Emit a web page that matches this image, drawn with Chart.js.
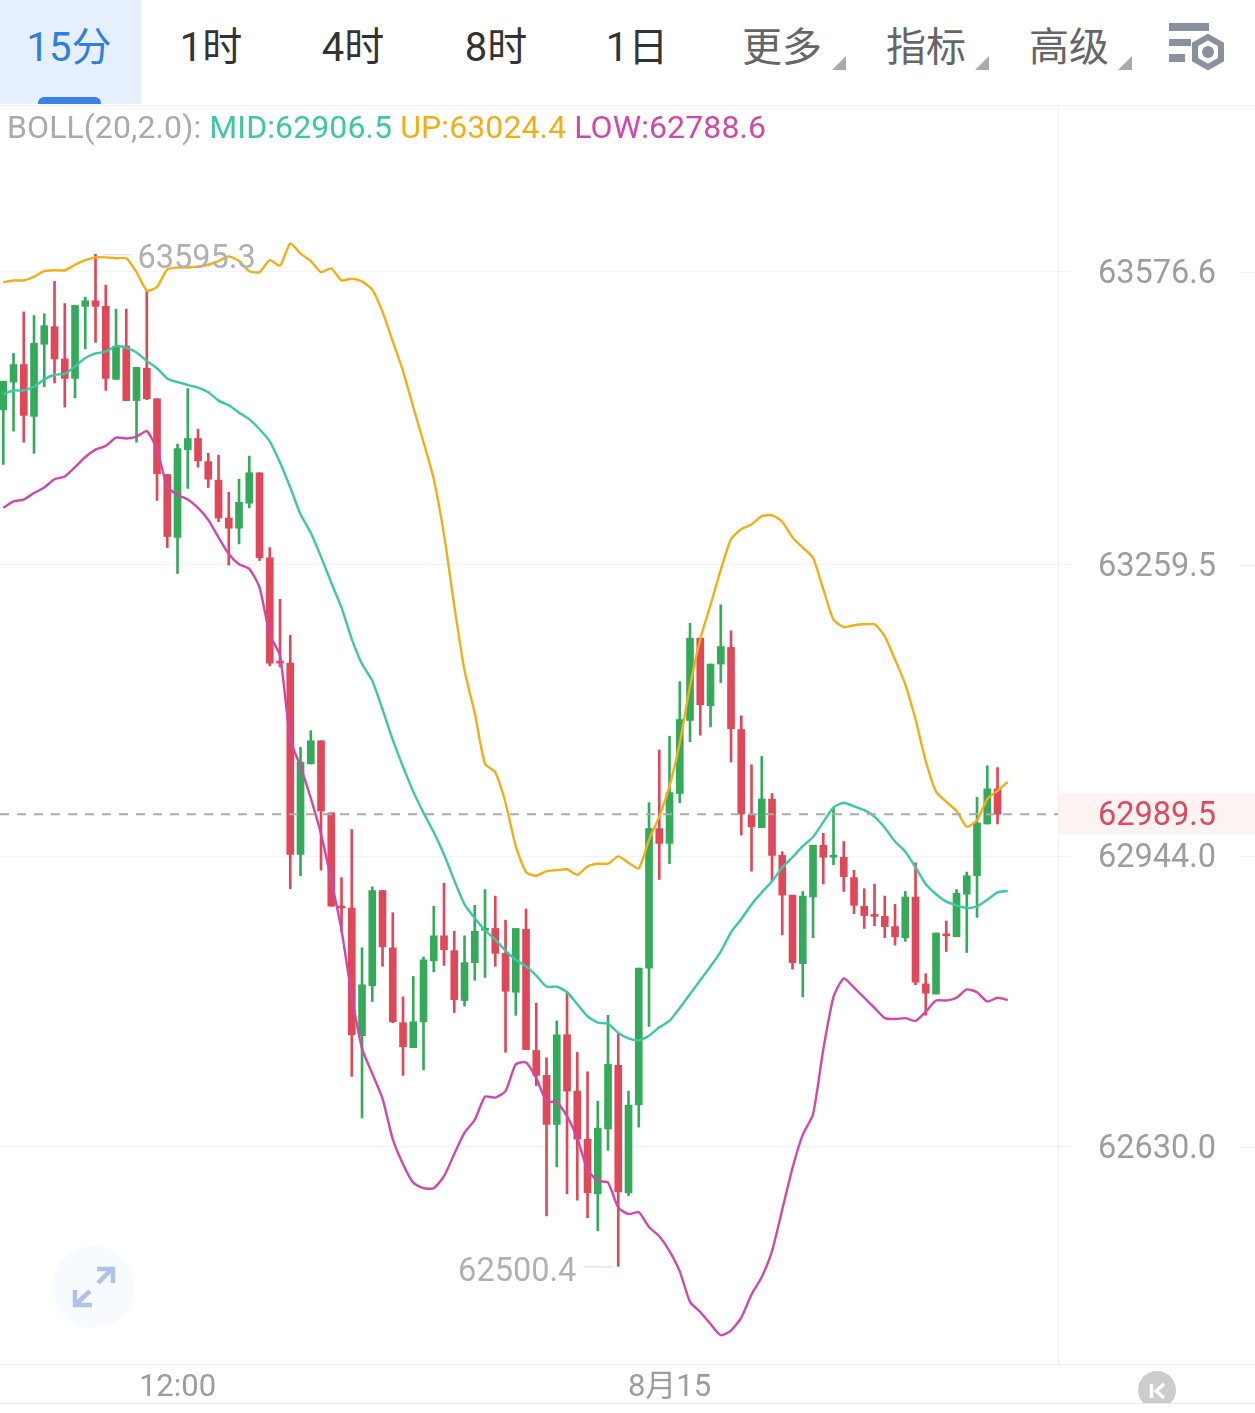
<!DOCTYPE html>
<html lang="zh">
<head>
<meta charset="utf-8">
<title>BOLL 15分</title>
<style>
  html, body { margin: 0; padding: 0; background: #fff; }
  body { position: relative; width: 1255px; height: 1413px; overflow: hidden; font-family: Roboto, "Noto Sans CJK SC", sans-serif; }
  #tabs { position: absolute; left: 0; top: 0; width: 1255px; height: 105px; }
  .tab { position: absolute; top: 22px; font-size: 40px; line-height: 52px; transform: translateX(-50%); white-space: nowrap; color: #333; }
  .tab.muted { color: #666; }
  .tab.active { color: #2f7ee0; }
  #activeBg { position: absolute; left: 0; top: 0; width: 141px; height: 104px; background: #e6f0fc; }
  #activeBar { position: absolute; left: 38px; top: 97px; width: 63px; height: 7px; background: #3b82e6; border-radius: 6px 6px 0 0; }
  #legend { position: absolute; left: 7px; top: 107px; font-size: 32px; line-height: 40px; white-space: nowrap; letter-spacing: 0.1px; }
  #chart { position: absolute; left: 0; top: 105px; }
  svg { position: absolute; left: 0; top: 0; pointer-events: none; }
</style>
</head>
<body>
<div id="tabs">
  <div id="activeBg"></div>
  <div id="activeBar"></div>
</div>
<canvas id="chart" width="1255" height="1308"></canvas>
<div id="legend"></div>
<svg width="1255" height="1413" viewBox="0 0 1255 1413">
  <!-- triangles under the menu tabs -->
  <path d="M846 56 V70 H832 Z M989 56 V70 H975 Z M1132 56 V70 H1118 Z" fill="#aaaaaa"/>
  <!-- settings icon -->
  <g fill="#8a90a0">
    <rect x="1169" y="23" width="40" height="8"/>
    <rect x="1169" y="39" width="22" height="7"/>
    <rect x="1169" y="54" width="16" height="8"/>
    <circle cx="1208" cy="52" r="6"/>
  </g>
  <path d="M1208 37 L1221 44.5 V59.5 L1208 67 L1195 59.5 V44.5 Z" fill="none" stroke="#8a90a0" stroke-width="6"/>
  <!-- expand button -->
  <circle cx="94" cy="1287" r="41" fill="#f7fafe"/>
  <path d="M97 1269 H113 V1283 M113 1268 L98 1283 M75 1290 V1305 H92 M75 1305 L90 1291" fill="none" stroke="#afc3ea" stroke-width="4.5"/>
  <!-- collapse button, cut by the bottom line -->
  <clipPath id="cut"><rect x="1100" y="1360" width="120" height="43"/></clipPath>
  <circle cx="1157" cy="1390" r="19" fill="#cccccc" clip-path="url(#cut)"/>
  <path d="M1151.5 1384 V1398 M1164 1384 L1156 1391 L1164 1398" fill="none" stroke="#ffffff" stroke-width="3.5"/>
  <rect x="0" y="1403" width="1255" height="1" fill="#eeeeee"/>
</svg>

<script src="https://cdn.jsdelivr.net/npm/chart.js@4/dist/chart.umd.min.js"></script>
<script>
// --- data ---
const tabNames = ['15分', '1时', '4时', '8时', '1日', '更多', '指标', '高级'];

const opens = [63427,63457,63476,63420,63498,63517,63482,63461,63539,63545,63539,63460,63496,63437,63472,63439,63357,63289,63384,63396,63371,63351,63310,63299,63326,63359,63267,63154,63153,62946,63044,63069,62991,62889,62888,62750,62804,62907,62845,62764,62737,62765,62831,62858,62842,62788,62829,62864,62866,62839,62797,62865,62734,62707,62654,62751,62690,62638,62579,62649,62718,62580,62675,62823,62974,62958,63012,63091,63180,63107,63152,63170,63081,62989,62975,63006,62945,62902,62828,62900,62956,62943,62943,62921,62890,62880,62879,62868,62856,62900,62806,62795,62859,62857,62903,62923,62979,63017];
const highs = [63458,63488,63533,63529,63531,63566,63542,63540,63549,63595.3,63562,63536,63536,63473,63556,63439,63357,63390,63450,63406,63380,63378,63338,63352,63377,63359,63278,63222,63183,63062,63080,63069,62991,62921,62973,62845,62911,62907,62883,62792,62814,62835,62890,62915,62863,62858,62891,62908,62901,62875,62866,62887,62785,62726,62766,62796,62732,62711,62679,62772,62752,62690,62823,63002,63059,63074,63133,63196,63180,63152,63216,63188,63096,63043,63052,63012,62949,62902,62906,62956,62969,62997,62960,62929,62909,62914,62901,62892,62906,62937,62817,62861,62874,62908,62927,63008,63042,63040];
const lows = [63368,63404,63392,63380,63452,63456,63430,63440,63493,63500,63448,63460,63437,63392,63438,63329,63278,63250,63342,63365,63343,63306,63259,63282,63321,63264,63150,63149,62909,62923,63044,62929,62890,62862,62706,62661,62787,62825,62764,62707,62737,62713,62819,62826,62775,62782,62810,62813,62825,62732,62772,62735,62696,62555,62608,62579,62572,62553,62539,62626,62500.4,62577,62651,62760,62919,62936,63002,63068,63075,63084,63132,63046,62967,62928,62975,62917,62859,62822,62792,62856,62914,62935,62906,62882,62866,62869,62856,62848,62852,62805,62772,62795,62841,62857,62840,62878,62979,62979];
const closes = [63458,63476,63421,63499,63518,63482,63461,63540,63545,63539,63461,63496,63437,63473,63439,63358,63290,63385,63396,63372,63352,63310,63299,63327,63359,63267,63153,63153,62946,63046,63069,62993,62890,62888,62751,62805,62907,62846,62765,62738,62765,62832,62858,62843,62789,62829,62863,62865,62839,62798,62866,62735,62707,62654,62751,62690,62638,62580,62650,62719,62581,62675,62823,62974,62958,63013,63092,63180,63108,63152,63171,63082,62990,62976,63006,62945,62902,62829,62901,62956,62943,62944,62922,62891,62880,62879,62868,62857,62900,62808,62796,62861,62858,62904,62923,62980,63017,62989.5];

const midBand = [63444,63448,63448,63452,63460,63465,63466,63474,63483,63488,63490,63496,63494,63489,63480,63472,63461,63457,63454,63451,63446,63437,63432,63424,63417,63406,63393,63370,63343,63314,63294,63268,63240,63213,63179,63152,63134,63103,63070,63041,63014,62991,62970,62946,62918,62892,62877,62864,62854,62842,62832,62825,62815,62803,62803,62797,62784,62771,62764,62763,62753,62747,62745,62750,62759,62766,62780,62795,62810,62825,62841,62862,62876,62892,62905,62917,62932,62943,62955,62965,62981,62997,63002,62998,62994,62987,62975,62960,62949,62932,62914,62903,62895,62891,62888,62890,62897,62905,62906.5];
const upBand = [63565,63567,63567,63571,63577,63578,63578,63584,63589,63592,63592,63591,63591,63576,63556,63560,63579,63581,63581,63582,63584,63588,63593,63588,63577,63576,63589,63583,63607,63596,63588,63576,63580,63567,63569,63566,63557,63533,63501,63469,63430,63392,63352,63292,63215,63145,63099,63044,63035,63002,62955,62927,62923,62928,62929,62930,62924,62933,62936,62936,62944,62937,62931,62962,62987,63020,63067,63128,63179,63216,63254,63287,63298,63303,63312,63313,63306,63289,63278,63267,63233,63200,63192,63194,63195,63195,63182,63157,63130,63092,63047,63014,63003,62993,62976,62983,63006,63015,63024.4];
const lowBand = [63321,63328,63330,63337,63343,63352,63355,63365,63376,63384,63388,63397,63396,63398,63404,63384,63344,63335,63330,63321,63308,63289,63271,63260,63255,63235,63184,63161,63071,63041,63007,62968,62918,62864,62793,62736,62709,62682,62638,62611,62591,62585,62585,62598,62622,62645,62659,62684,62683,62690,62719,62721,62704,62679,62678,62663,62639,62605,62593,62591,62564,62557,62559,62543,62533,62517,62495,62462,62451,62438,62426,62431,62445,62470,62489,62517,62562,62607,62643,62665,62735,62792,62812,62802,62791,62780,62769,62768,62769,62766,62776,62788,62788,62791,62800,62797,62787,62791,62788.6];

const priceTicks = [63576.6, 63259.5, 62944.0, 62630.0];
const timeTicks = [17, 65];
const timeLabels = ['12:00', '8月15'];

// --- styles ---
const RED = '#e04758';
const GREEN = '#34ab5a';
const MID_COLOR = '#3cc7a6';
const UP_COLOR = '#f0ae17';
const LOW_COLOR = '#d048a8';
const GRAY_TEXT = '#9d9d9d';
const FONT = 'Roboto, "Noto Sans CJK SC", sans-serif';

// --- header ---
const tabCenters = [69, 211, 353, 496, 637, 782, 926, 1069];
const tabsEl = document.getElementById('tabs');
tabNames.forEach((name, i) => {
  const el = document.createElement('div');
  el.className = 'tab' + (i === 0 ? ' active' : '') + (i >= 5 ? ' muted' : '');
  el.style.left = tabCenters[i] + 'px';
  el.textContent = name;
  tabsEl.appendChild(el);
});

const last = arr => arr[arr.length - 1];
document.getElementById('legend').innerHTML =
  `<span style="color:#aaa">BOLL(20,2.0):</span> ` +
  `<span style="color:${MID_COLOR}">MID:${last(midBand).toFixed(1)}</span> ` +
  `<span style="color:${UP_COLOR}">UP:${last(upBand).toFixed(1)}</span> ` +
  `<span style="color:${LOW_COLOR}">LOW:${last(lowBand).toFixed(1)}</span>`;

// --- chart ---
const candleColor = ctx => {
  const i = ctx.dataIndex;
  return closes[i] >= opens[i] ? GREEN : RED;
};
const linePoints = arr => arr.map((y, x) => ({ x, y }));
const bandLine = (arr, color) => ({
  type: 'line',
  data: linePoints(arr),
  borderColor: color,
  borderWidth: 2.4,
  pointRadius: 0,
  tension: 0.2,
  order: 0
});
// the axis labels must not push the plot area in
const noPadding = scale => {
  scale.paddingTop = 0;
  scale.paddingBottom = 0;
  scale.paddingLeft = 0;
  scale.paddingRight = 0;
};

// frame lines, price labels and band on the right, high/low notes
const chartExtras = {
  id: 'chartExtras',
  beforeDraw(chart) {
    const { ctx, chartArea, scales } = chart;
    const y = scales.y.getPixelForValue(last(closes));
    ctx.save();
    ctx.fillStyle = '#fdf3f2';
    ctx.fillRect(chartArea.right + 1, y - 21, chart.width - chartArea.right, 41);
    ctx.fillStyle = '#f0f0f0';
    ctx.fillRect(0, chartArea.top, chart.width, 1);
    ctx.fillRect(0, chartArea.bottom, chart.width, 1);
    priceTicks.forEach(p => ctx.fillRect(1240, Math.round(scales.y.getPixelForValue(p)), 15, 1));
    ctx.restore();
  },
  afterDraw(chart) {
    const { ctx, scales } = chart;
    ctx.save();
    ctx.font = '32.5px ' + FONT;
    ctx.textBaseline = 'middle';

    ctx.textAlign = 'center';
    ctx.fillStyle = GRAY_TEXT;
    scales.y.ticks.forEach(t => {
      ctx.fillText(t.value.toFixed(1), 1157, scales.y.getPixelForValue(t.value) + 3);
    });
    ctx.fillStyle = '#dc4a5c';
    ctx.fillText(last(closes).toFixed(1), 1157, scales.y.getPixelForValue(last(closes)) + 3);

    const hi = Math.max(...highs);
    const lo = Math.min(...lows);
    const hiX = scales.x.getPixelForValue(highs.indexOf(hi));
    const hiY = scales.y.getPixelForValue(hi);
    const loX = scales.x.getPixelForValue(lows.indexOf(lo));
    const loY = scales.y.getPixelForValue(lo);

    ctx.fillStyle = '#dddddd';
    ctx.fillRect(hiX + 7, hiY, 29, 1);
    ctx.fillRect(loX - 35, loY, 30, 1);

    ctx.fillStyle = '#b0b0b0';
    ctx.textAlign = 'left';
    ctx.fillText(hi.toFixed(1), hiX + 42, hiY + 6);
    ctx.textAlign = 'right';
    ctx.fillText(lo.toFixed(1), loX - 42, loY + 6);
    ctx.restore();
  }
};

new Chart(document.getElementById('chart'), {
  data: {
    datasets: [
      {
        type: 'line',
        data: [{ x: -0.32, y: last(closes) }, { x: 102.9, y: last(closes) }],
        borderColor: '#aaaaaa',
        borderWidth: 2,
        borderDash: [9, 8],
        pointRadius: 0,
        order: 0
      },
      bandLine(midBand, MID_COLOR),
      bandLine(upBand, UP_COLOR),
      bandLine(lowBand, LOW_COLOR),
      {
        type: 'bar',
        data: opens.map((o, x) => ({ x, y: [o, closes[x]] })),
        backgroundColor: candleColor,
        barThickness: 7,
        minBarLength: 2,
        grouped: false,
        order: 1
      },
      {
        type: 'bar',
        data: lows.map((l, x) => ({ x, y: [l, highs[x]] })),
        backgroundColor: candleColor,
        barThickness: 2,
        grouped: false,
        order: 2
      }
    ]
  },
  options: {
    responsive: false,
    animation: false,
    devicePixelRatio: 1,
    layout: { padding: 0 },
    plugins: { legend: { display: false }, tooltip: { enabled: false } },
    scales: {
      x: {
        type: 'linear',
        offset: false,
        min: -0.32,
        max: 102.9,
        grid: { display: false, drawTicks: false, offset: false },
        border: { display: false },
        afterBuildTicks: scale => { scale.ticks = timeTicks.map(value => ({ value })); },
        afterFit: scale => { scale.height = 49; noPadding(scale); },
        ticks: {
          autoSkip: false,
          maxRotation: 0,
          padding: 6,
          color: GRAY_TEXT,
          font: { family: FONT, size: 31 },
          callback: value => timeLabels[timeTicks.indexOf(value)]
        }
      },
      y: {
        type: 'linear',
        position: 'right',
        min: 62394.8,
        max: 63756.8,
        grid: { color: '#f3f3f3', lineWidth: 1, tickLength: 14 },
        border: { color: '#eeeeee' },
        afterBuildTicks: scale => { scale.ticks = priceTicks.map(value => ({ value })); },
        afterFit: scale => { scale.width = 197; noPadding(scale); },
        // labels are drawn in chartExtras, a few pixels lower than the library puts them
        ticks: { display: false, autoSkip: false }
      }
    }
  },
  plugins: [chartExtras]
});
</script>
</body>
</html>
